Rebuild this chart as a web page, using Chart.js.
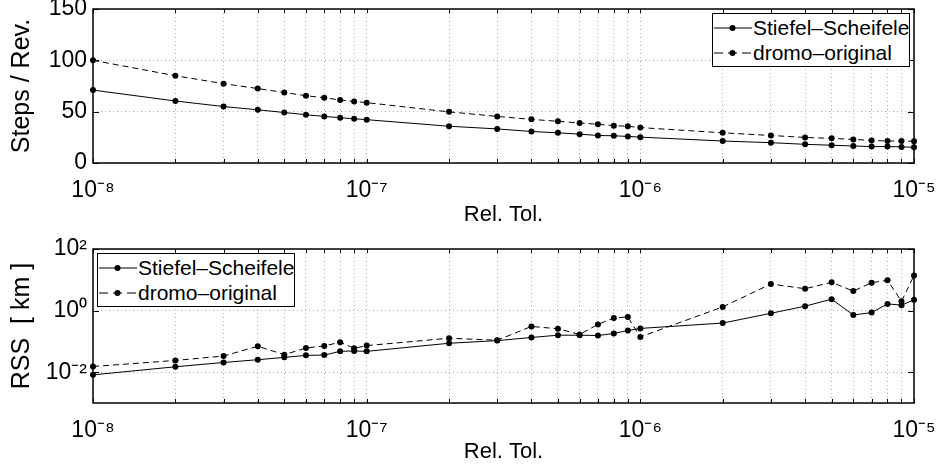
<!DOCTYPE html>
<html><head><meta charset="utf-8">
<script src="https://cdn.jsdelivr.net/npm/chart.js@4"></script>
<style>
body{margin:0;background:#fff;width:941px;height:471px;overflow:hidden;position:relative;font-family:"Liberation Sans",Arial,sans-serif}
canvas{position:absolute;left:0}
.legend{position:absolute;border:1.5px solid #000;background:#fff;font-size:21px;box-sizing:border-box;padding:1px 0 0 1px}
.row{display:flex;align-items:center;height:25px;white-space:nowrap}
.row svg{margin-right:1px;flex:none}
</style></head><body>
<canvas id="c1" width="941" height="235" style="top:0"></canvas>
<canvas id="c2" width="941" height="236" style="top:235px"></canvas>
<div class="legend" id="leg1" style="left:712px;top:13px;width:198px;height:54px"></div>
<div class="legend" id="leg2" style="left:97px;top:253px;width:198px;height:54px"></div>
<script>
const tolerances = [1e-8,2e-8,3e-8,4e-8,5e-8,6e-8,7e-8,8e-8,9e-8,1e-7,2e-7,3e-7,4e-7,5e-7,6e-7,7e-7,8e-7,9e-7,1e-6,2e-6,3e-6,4e-6,5e-6,6e-6,7e-6,8e-6,9e-6,1e-5];
const seriesNames = ['Stiefel\u2013Scheifele','dromo\u2013original'];
const stepsStiefel = [71,60.4,55,51.8,49.2,47,45.4,44.1,43.1,42.2,35.8,33.2,30.7,29.4,28.1,26.8,26.5,25.9,25.2,21.4,19.8,18.2,17.3,16.6,16,16,15.7,15.3];
const stepsDromo = [100,85,77.3,72.5,68.7,65.5,63.6,61.3,60,58.8,49.8,45.4,42.5,40.6,39,37.7,36.4,35.8,34.5,29.4,26.8,24.9,24,23,22,21.4,21.4,21.1];
const rssStiefel = [0.0082,0.015,0.0207,0.0254,0.0303,0.0352,0.036,0.0476,0.0489,0.0476,0.087,0.106,0.134,0.159,0.159,0.155,0.181,0.226,0.264,0.394,0.818,1.39,2.35,0.721,0.86,1.65,1.5,2.24];
const rssDromo = [0.0153,0.0241,0.0335,0.0695,0.037,0.0612,0.0711,0.094,0.0597,0.073,0.127,0.109,0.306,0.257,0.168,0.356,0.575,0.62,0.14,1.32,7.3,5.13,8.28,4.3,8.07,9.6,2.02,13.7];
const stepsTicks = [0,50,100,150];
const rssTicks = [1e-2,1,1e2];
const xLabel = 'Rel. Tol.';
const yLabelTop = 'Steps / Rev.';
const yLabelBottom = 'RSS  [ km ]';

const FONT = '"Liberation Sans", Arial, sans-serif';
const SUP = {'-':'\u207B','0':'\u2070','1':'\u00B9','2':'\u00B2','3':'\u00B3','4':'\u2074','5':'\u2075','6':'\u2076','7':'\u2077','8':'\u2078','9':'\u2079'};
function pow10Label(v){
  const e = Math.round(Math.log10(v));
  if (Math.abs(Math.log10(v) - e) > 1e-6) return '';
  return '10' + String(e).split('').map(c => SUP[c]).join('');
}
const gridColor = '#b0b0b0';

const framePlugin = {
  id: 'frame',
  beforeDatasetsDraw(chart){
    const {ctx, chartArea: a, scales} = chart;
    ctx.save();
    ctx.strokeStyle = '#000';
    ctx.lineWidth = 1;
    ctx.beginPath();
    scales.x.ticks.forEach(t => {
      const px = Math.round(scales.x.getPixelForValue(t.value)) + 0.5;
      ctx.moveTo(px, a.bottom); ctx.lineTo(px, a.bottom - 4);
      ctx.moveTo(px, a.top); ctx.lineTo(px, a.top + 4);
    });
    scales.y.ticks.forEach(t => {
      const py = Math.round(scales.y.getPixelForValue(t.value)) + 0.5;
      ctx.moveTo(a.left, py); ctx.lineTo(a.left + 6, py);
      ctx.moveTo(a.right, py); ctx.lineTo(a.right - 6, py);
    });
    ctx.stroke();
    ctx.lineWidth = 1.5;
    ctx.strokeRect(a.left, a.top, a.right - a.left, a.bottom - a.top);
    ctx.restore();
  }
};

function makeDatasets(s1, s2){
  return [
    {label: seriesNames[0], data: tolerances.map((x,i)=>({x, y:s1[i]})), borderColor:'#000', backgroundColor:'#000', borderWidth:1, pointRadius:3, pointHoverRadius:3, pointBorderWidth:0, clip:false},
    {label: seriesNames[1], data: tolerances.map((x,i)=>({x, y:s2[i]})), borderColor:'#000', backgroundColor:'#000', borderWidth:1, borderDash:[6,4], pointRadius:3, pointHoverRadius:3, pointBorderWidth:0, clip:false}
  ];
}

function xScale(h, titlePad){
  return {
    type:'logarithmic', min:1e-8, max:1e-5,
    afterFit(s){ s.height = h; s.paddingLeft = 0; s.paddingRight = 0; },
    afterBuildTicks(s){ s.ticks = tolerances.map(v => ({value:v})); },
    ticks:{autoSkip:false, maxRotation:0, padding:14, color:'#000', font:{family:FONT, size:23}, callback:(v)=>pow10Label(v)},
    grid:{drawTicks:false, color:gridColor, lineWidth:1},
    border:{display:false, dash:[1,3]},
    title:{display:true, text:xLabel, color:'#000', font:{family:FONT, size:22}, padding:{top:0, bottom:titlePad}}
  };
}

function yScaleOpts(extra, label){
  return Object.assign({
    afterFit(s){ s.width = 93; s.paddingTop = 0; s.paddingBottom = 0; },
    grid:{drawTicks:false, color:gridColor, lineWidth:1},
    border:{display:false, dash:[1,3]},
    title:{display:true, text:label, color:'#000', font:{family:FONT, size:25}, padding:{top:7, bottom:0}}
  }, extra);
}

const common = {
  responsive:false, animation:false, devicePixelRatio:1,
  plugins:{legend:{display:false}, tooltip:{enabled:false}},
  events:[]
};

new Chart(document.getElementById('c1'), {
  type:'line',
  data:{datasets: makeDatasets(stepsStiefel, stepsDromo)},
  options: Object.assign({}, common, {
    layout:{padding:{left:0, right:27, top:9, bottom:0}},
    scales:{
      x: xScale(72, 7),
      y: yScaleOpts({
        type:'linear', min:0, max:150,
        afterBuildTicks(s){ s.ticks = stepsTicks.map(v => ({value:v})); },
        ticks:{padding:6, color:'#000', font:{family:FONT, size:23}}
      }, yLabelTop)
    }
  }),
  plugins:[framePlugin]
});

new Chart(document.getElementById('c2'), {
  type:'line',
  data:{datasets: makeDatasets(rssStiefel, rssDromo)},
  options: Object.assign({}, common, {
    layout:{padding:{left:0, right:27, top:14, bottom:0}},
    scales:{
      x: xScale(68, 6),
      y: yScaleOpts({
        type:'logarithmic', min:1e-3, max:1e2,
        afterBuildTicks(s){ s.ticks = rssTicks.map(v => ({value:v})); },
        ticks:{padding:6, color:'#000', font:{family:FONT, size:23}, callback:(v)=>pow10Label(v)}
      }, yLabelBottom)
    }
  }),
  plugins:[framePlugin]
});

function buildLegend(id){
  const el = document.getElementById(id);
  seriesNames.forEach((name, i) => {
    const row = document.createElement('div');
    row.className = 'row';
    const dash = i === 1 ? ' stroke-dasharray="9,5"' : '';
    row.innerHTML = '<svg width="38" height="10"><line x1="0" y1="5" x2="38" y2="5" stroke="#000" stroke-width="1"' + dash + '/><circle cx="18.5" cy="5" r="3" fill="#000"/></svg><span>' + name + '</span>';
    el.appendChild(row);
  });
}
buildLegend('leg1');
buildLegend('leg2');
</script>
</body></html>
